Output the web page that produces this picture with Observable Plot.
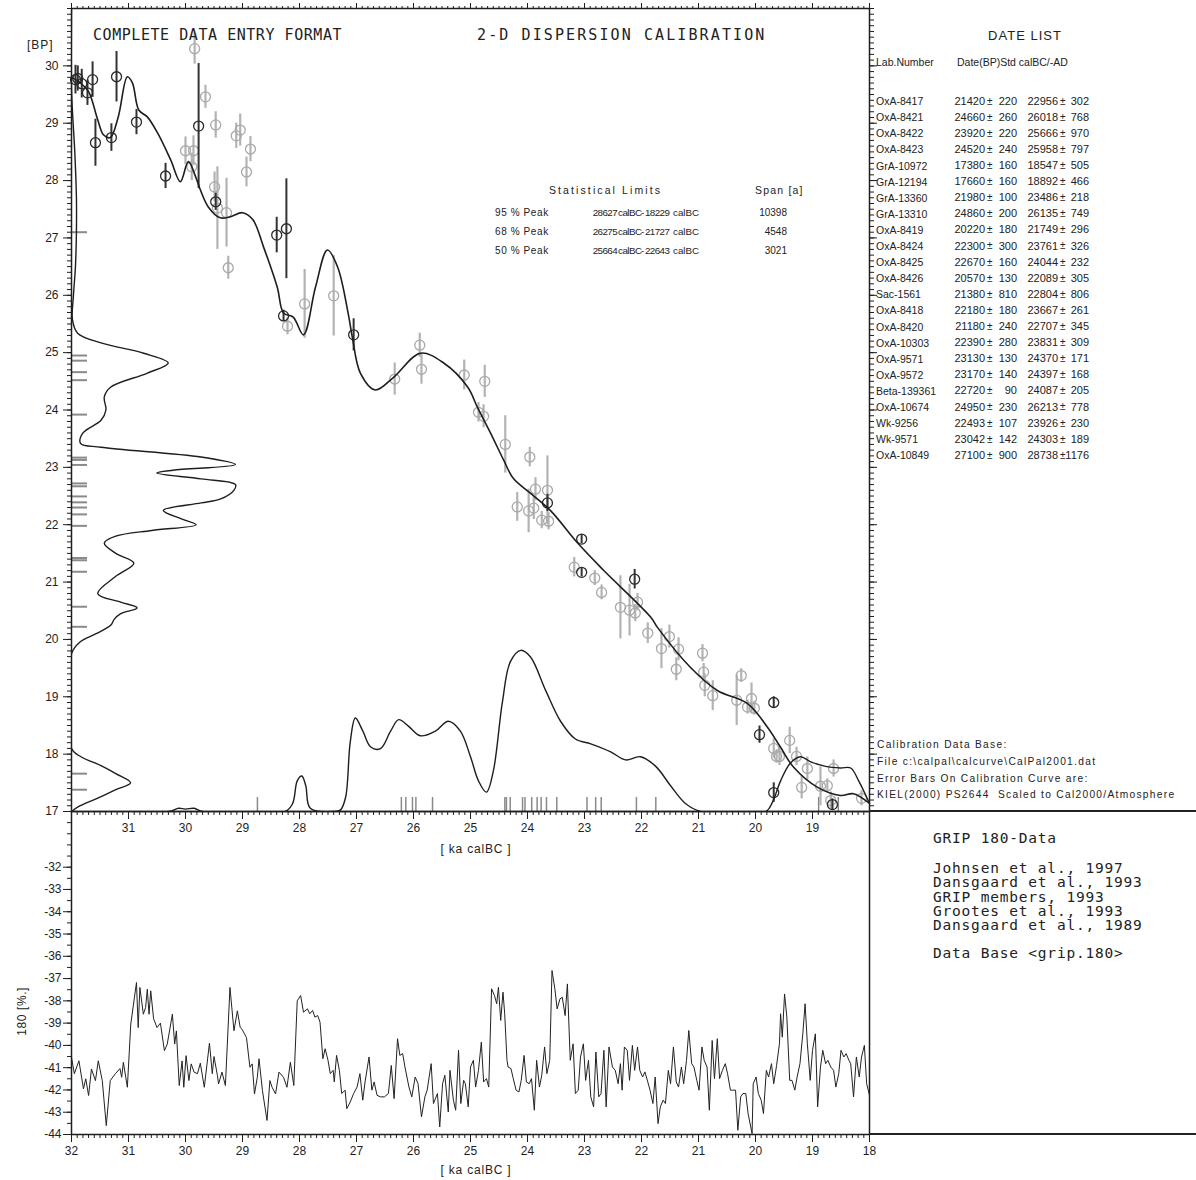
<!DOCTYPE html>
<html><head><meta charset="utf-8">
<script src="https://cdn.jsdelivr.net/npm/d3@7"></script>
<script src="https://cdn.jsdelivr.net/npm/@observablehq/plot@0.6"></script>
<style>
body{margin:0;background:#fff}
#wrap{position:relative;width:1196px;height:1180px;overflow:hidden;background:#fff}
#wrap svg{position:absolute;left:0;top:0}
.t{position:absolute;white-space:pre;color:#222}
.hl{position:absolute;background:#222}
</style></head><body><div id="wrap"></div>
<script>
// ---------- DATA ----------
const calCurve = [[31.98,29.79],[31.84,29.70],[31.70,29.55],[31.54,29.06],[31.44,28.80],[31.32,28.75],[31.18,29.11],[31.02,29.81],[30.93,29.70],[30.82,29.23],[30.67,29.11],[30.49,28.83],[30.26,28.36],[30.09,27.98],[29.95,28.33],[29.82,28.06],[29.74,27.84],[29.60,27.54],[29.39,27.35],[29.21,27.37],[29.00,27.44],[28.82,27.32],[28.63,26.84],[28.39,26.14],[28.28,25.69],[28.11,25.62],[27.93,25.31],[27.72,26.14],[27.51,26.79],[27.33,26.49],[27.14,25.65],[27.07,25.25],[26.93,24.64],[26.67,24.35],[26.35,24.57],[25.88,24.99],[25.47,24.82],[25.05,24.40],[24.88,24.05],[24.65,23.60],[24.42,23.13],[24.25,22.81],[23.95,22.55],[23.60,22.25],[23.12,21.68],[22.67,21.21],[21.84,20.39],[21.72,20.21],[21.14,19.51],[20.67,19.11],[20.14,18.88],[19.79,18.47],[19.56,18.12],[19.33,17.77],[18.91,17.42],[18.51,17.28],[18.28,17.31],[18.00,17.14]];

// calibration data points [calBC ka, BP ka, BP error ka]
const darkPts = [[31.93,29.76,0.25],[31.89,29.78,0.22],[31.82,29.69,0.25],[31.72,29.53,0.22],[31.63,29.76,0.31],[31.58,28.66,0.41],[31.30,28.75,0.24],[31.21,29.81,0.44],[30.86,29.02,0.22],[30.35,28.08,0.22],[29.77,28.95,1.09],[29.47,27.63,0.15],[28.40,27.05,0.31],[28.23,27.16,0.87],[28.28,25.64,0.10],[27.05,25.31,0.28],[23.65,22.38,0.15],[23.05,21.75,0.08],[23.05,21.17,0.08],[22.12,21.05,0.17],[19.68,18.90,0.10],[19.93,18.34,0.15],[19.68,17.33,0.17],[18.65,17.12,0.10]];
const lightPts = [[29.84,30.30,0.27],[29.65,29.46,0.20],[29.47,28.97,0.23],[29.11,28.78,0.22],[29.04,28.88,0.28],[28.86,28.55,0.22],[28.93,28.15,0.26],[30.00,28.52,0.24],[29.86,28.52,0.26],[29.89,28.24,0.24],[29.49,27.89,0.26],[29.44,27.52,0.72],[29.28,27.44,0.60],[29.25,26.48,0.20],[27.91,25.85,0.60],[27.40,25.99,0.70],[28.21,25.46,0.15],
[26.33,24.54,0.28],[25.89,25.13,0.21],[25.86,24.71,0.26],[25.11,24.61,0.26],[24.75,24.50,0.28],[24.86,23.96,0.17],[24.77,23.89,0.20],[24.39,23.40,0.50],[23.96,23.18,0.17],[24.18,22.31,0.25],[23.98,22.24,0.38],[23.89,22.29,0.20],[23.86,22.62,0.20],[23.65,22.60,0.60],[23.75,22.08,0.15],[23.63,22.06,0.15],[23.18,21.26,0.17],[22.82,21.07,0.13],[22.70,20.82,0.13],[22.37,20.56,0.55],[22.21,20.51,0.45],[22.11,20.46,0.15],[22.07,20.65,0.15],
[21.89,20.11,0.18],[21.65,19.84,0.35],[21.51,20.05,0.20],[21.35,19.83,0.20],[21.39,19.48,0.20],[20.93,19.76,0.15],[20.91,19.43,0.15],[20.89,19.20,0.20],[20.75,19.02,0.26],[20.33,18.94,0.44],[20.25,19.37,0.12],[20.14,18.82,0.12],[20.07,18.97,0.27],[20.02,18.80,0.12],[19.68,18.10,0.17],[19.63,17.96,0.12],[19.58,17.96,0.16],[19.40,18.24,0.23],[19.28,17.96,0.16],[19.19,17.42,0.20],[19.09,17.75,0.20],[18.86,17.44,0.34],[18.74,17.45,0.12],[18.68,17.19,0.15],[18.63,17.75,0.15],[18.14,17.23,0.13]];

// summed probability in BP (relative %, drawn from the left axis)
const bpDens = [[31.0,0],[29.6,0],[29.2,0.6],[28.5,2],[27.7,3],[27.1,3],[26.5,2.4],[26.0,1.2],[25.57,0.6],[25.34,3.7],[25.17,18],[24.99,44],[24.82,59],[24.64,46],[24.40,24],[24.23,20],[24.0,21],[23.82,18],[23.6,7],[23.42,5.5],[23.35,18],[23.18,79],[23.05,100],[22.95,62],[22.90,52],[22.80,79],[22.70,100],[22.60,99],[22.45,91],[22.38,79],[22.25,56],[22.10,67],[22.0,76],[21.9,49],[21.80,27],[21.68,20],[21.5,27],[21.33,38],[21.1,27],[20.8,16],[20.65,30],[20.55,40],[20.45,30],[20.35,26],[20.25,24],[20.1,15],[19.95,5],[19.75,0],[18.1,0],[17.95,6],[17.8,18],[17.66,27],[17.5,36],[17.38,27],[17.22,15],[17.08,4],[17.0,0]];
// summed probability in calBC (relative %, drawn from the bottom axis)
const calDens = [[32.00,0],[30.30,0],[30.12,2],[30.0,1.5],[29.85,2],[29.70,0],[28.25,0],[28.12,5],[28.04,19],[27.96,22],[27.89,16],[27.81,2],[27.40,0],[27.28,1],[27.19,9],[27.11,43],[27.02,58],[26.89,50],[26.75,40],[26.58,39],[26.40,50],[26.26,57],[26.09,53],[25.88,47],[25.61,50],[25.39,56],[25.18,50],[25.00,34],[24.86,19],[24.72,12],[24.60,25],[24.44,68],[24.30,93],[24.12,100],[23.95,96],[23.68,75],[23.42,56],[23.16,45],[22.89,42],[22.54,37],[22.28,32],[22.02,34],[21.75,28],[21.49,16],[21.23,5],[20.96,0],[19.82,0],[19.70,6],[19.56,19],[19.39,30],[19.21,34],[19.04,31],[18.77,28],[18.51,27],[18.33,27],[18.19,19],[18.00,5]];

// date list
const labNumbers = ["OxA-8417","OxA-8421","OxA-8422","OxA-8423","GrA-10972","GrA-12194","GrA-13360","GrA-13310","OxA-8419","OxA-8424","OxA-8425","OxA-8426","Sac-1561","OxA-8418","OxA-8420","OxA-10303","OxA-9571","OxA-9572","Beta-139361","OxA-10674","Wk-9256","Wk-9571","OxA-10849"];
const datesBP = [21420,24660,23920,24520,17380,17660,21980,24860,20220,22300,22670,20570,21380,22180,21180,22390,23130,23170,22720,24950,22493,23042,27100];
const stdBP = [220,260,220,240,160,160,100,200,180,300,160,130,810,180,240,280,130,140,90,230,107,142,900];
const datesCal = [22956,26018,25666,25958,18547,18892,23486,26135,21749,23761,24044,22089,22804,23667,22707,23831,24370,24397,24087,26213,23926,24303,28738];
const stdCal = [302,768,970,797,505,466,218,749,296,326,232,305,806,261,345,309,171,168,205,778,230,189,1176];

// statistical limits
const statLabels = ["95 % Peak","68 % Peak","50 % Peak"];
const statFrom = [28627,26275,25664];
const statTo = [18229,21727,22643];
const statSpan = [10398,4548,3021];

// GRIP d18O record [calBC ka, permil]
const grip = [[32.00,-40.54],[31.95,-41.27],[31.87,-40.69],[31.79,-41.95],[31.75,-41.5],[31.70,-42.25],[31.65,-41.06],[31.58,-41.58],[31.53,-40.69],[31.46,-41.58],[31.39,-43.6],[31.32,-41.58],[31.23,-41.27],[31.15,-41.04],[31.12,-41.43],[31.09,-40.76],[31.02,-41.88],[30.96,-39.04],[30.86,-37.18],[30.83,-39.2],[30.80,-37.4],[30.74,-38.6],[30.70,-38.3],[30.67,-37.48],[30.64,-38.6],[30.61,-37.55],[30.56,-38.8],[30.50,-39.2],[30.44,-39.0],[30.37,-40.24],[30.32,-39.94],[30.23,-38.6],[30.19,-39.94],[30.16,-39.35],[30.11,-41.8],[30.06,-40.7],[30.03,-41.88],[29.99,-40.46],[29.94,-41.58],[29.90,-40.83],[29.85,-41.2],[29.79,-41.27],[29.74,-40.8],[29.67,-41.88],[29.58,-39.9],[29.53,-41.27],[29.50,-40.5],[29.44,-41.35],[29.42,-41.73],[29.36,-41.2],[29.30,-41.8],[29.22,-37.4],[29.15,-39.34],[29.09,-38.45],[29.04,-39.2],[29.01,-39.27],[28.93,-39.65],[28.87,-40.98],[28.83,-40.83],[28.79,-42.18],[28.74,-41.43],[28.71,-40.6],[28.65,-42.03],[28.57,-43.37],[28.52,-41.58],[28.48,-41.88],[28.42,-42.18],[28.36,-41.2],[28.28,-41.43],[28.22,-41.88],[28.16,-40.76],[28.10,-41.8],[28.04,-38.0],
[27.98,-37.76],[27.93,-38.51],[27.86,-38.36],[27.82,-38.58],[27.77,-38.43],[27.73,-38.73],[27.68,-38.66],[27.64,-38.96],[27.59,-40.6],[27.55,-40.15],[27.50,-40.67],[27.46,-41.27],[27.41,-41.12],[27.39,-41.64],[27.35,-40.45],[27.30,-41.12],[27.26,-42.16],[27.20,-42.01],[27.17,-42.84],[27.11,-42.54],[27.05,-42.16],[26.99,-41.87],[26.94,-41.27],[26.89,-42.46],[26.85,-41.64],[26.78,-40.52],[26.73,-42.01],[26.69,-41.64],[26.64,-42.24],[26.58,-42.31],[26.51,-42.31],[26.44,-42.16],[26.39,-40.9],[26.34,-42.39],[26.28,-39.7],[26.24,-40.45],[26.19,-40.37],[26.15,-40.97],[26.08,-41.87],[26.03,-42.31],[25.97,-41.42],[25.92,-41.72],[25.86,-43.21],[25.80,-42.31],[25.76,-42.01],[25.69,-40.82],[25.65,-42.61],[25.58,-42.16],[25.54,-43.66],[25.49,-41.72],[25.45,-41.34],[25.39,-42.99],[25.36,-41.12],[25.30,-42.46],[25.26,-42.91],[25.21,-40.22],[25.17,-42.61],[25.12,-41.57],[25.09,-41.72],[25.04,-42.76],[25.00,-40.97],[24.95,-40.67],[24.91,-41.87],[24.86,-41.12],[24.81,-39.85],[24.77,-41.64],[24.72,-41.49],[24.68,-41.87],[24.63,-37.46],[24.58,-37.76],[24.54,-38.13],[24.51,-37.39],[24.47,-38.88],[24.43,-37.61],[24.40,-38.58],[24.36,-40.67],[24.34,-40.97],[24.29,-41.04],[24.25,-41.49],[24.20,-42.01],[24.15,-42.09],[24.11,-41.57],[24.06,-40.45],[24.02,-41.64],[23.97,-41.72],[23.93,-41.49],[23.88,-42.91],[23.84,-40.67],[23.79,-41.87],[23.75,-41.34],[23.70,-40.07],[23.66,-41.27],[23.61,-40.67],[23.57,-36.64],[23.52,-37.46],[23.48,-38.36],[23.43,-37.91],[23.39,-37.84],[23.34,-38.66],[23.30,-37.24],[23.25,-40.67],[23.20,-39.93],[23.16,-42.16],[23.11,-42.01],[23.07,-40.52],[23.02,-39.93],[22.98,-41.57],[22.93,-40.67],[22.89,-42.31],[22.84,-42.76],[22.80,-40.30],[22.75,-42.31],[22.71,-42.16],[22.66,-40.22],[22.62,-42.76],[22.57,-40.07],[22.51,-40.97],[22.46,-41.12],[22.41,-41.72],[22.37,-40.82],[22.34,-42.01],[22.30,-40.07],[22.25,-40.22],[22.21,-41.57],[22.16,-40.0],[22.12,-41.12],[22.07,-40.07],[22.03,-41.12],[21.98,-41.42],[21.94,-41.19],[21.89,-41.64],[21.85,-42.01],[21.80,-42.61],[21.76,-41.42],[21.71,-43.51],[21.67,-42.76],[21.62,-42.46],[21.58,-42.61],[21.53,-41.12],[21.49,-41.72],[21.44,-40.07],[21.39,-41.64],[21.35,-41.87],[21.30,-40.97],[21.26,-41.72],[21.21,-40.67],[21.17,-39.33],[21.12,-40.82],[21.08,-40.97],[21.03,-41.57],[20.99,-42.01],[20.94,-40.07],[20.90,-40.67],[20.85,-40.97],[20.81,-42.91],[20.76,-39.78],[20.72,-41.49],[20.67,-39.7],[20.63,-41.49],[20.58,-41.12],[20.53,-40.82],[20.49,-41.27],[20.44,-42.01],[20.40,-42.01],[20.35,-42.01],[20.31,-43.81],[20.26,-42.31],[20.22,-42.16],[20.17,-42.16],[20.13,-43.06],[20.06,-43.96],[20.04,-41.72],[19.99,-41.42],[19.95,-42.16],[19.90,-42.46],[19.86,-43.06],[19.81,-41.12],[19.77,-41.42],[19.72,-40.82],[19.68,-41.72],[19.63,-40.9],[19.58,-39.93],[19.56,-38.58],[19.53,-39.63],[19.49,-37.69],[19.45,-38.73],[19.40,-41.57],[19.36,-41.57],[19.31,-42.01],[19.27,-41.42],[19.22,-40.82],[19.17,-39.48],[19.13,-38.13],[19.09,-39.93],[19.04,-41.57],[19.00,-40.22],[18.95,-39.48],[18.91,-42.76],[18.86,-40.97],[18.82,-40.22],[18.77,-40.82],[18.73,-40.67],[18.68,-40.97],[18.63,-41.12],[18.59,-41.87],[18.54,-41.27],[18.50,-40.22],[18.45,-40.52],[18.41,-40.37],[18.36,-40.67],[18.33,-40.82],[18.28,-42.31],[18.23,-40.52],[18.18,-41.42],[18.14,-40.52],[18.09,-40.0],[18.05,-41.72],[18.00,-42.24]];

// tick values
const bpLabels = [17,18,19,20,21,22,23,24,25,26,27,28,29,30];
const calLabelsTop = [31,30,29,28,27,26,25,24,23,22,21,20,19];
const calLabelsLow = [32,31,30,29,28,27,26,25,24,23,22,21,20,19,18];
const gripLabels = [-44,-43,-42,-41,-40,-39,-38,-37,-36,-35,-34,-33,-32];

// ---------- DRAW ----------
const wrap = document.getElementById("wrap");
const bpMinor = d3.range(170, 311).map(d => d / 10);
const calMinor = d3.range(180, 321).map(d => d / 10);
const gripMinor = d3.range(-88, -58).map(d => d / 2);
const blank = () => "";
const LK = 164 / 57;   // ka (x) for 100 % of BP density
const BK = 161 / 57.3; // ka (y) for 100 % of cal density
const font = "Liberation Sans, Arial, sans-serif";
const ink = "#1e1e1e";

const topPlot = Plot.plot({
  width: 1196, height: 870,
  marginLeft: 71, marginRight: 327, marginTop: 8, marginBottom: 59,
  x: {domain: [32, 18]}, y: {domain: [17, 31]},
  style: {background: "transparent", fontFamily: font, fontSize: "12px", color: ink, overflow: "visible"},
  marks: [
    Plot.axisY({ticks: bpMinor, tickSize: 4, tickFormat: blank, label: null}),
    Plot.axisY({ticks: bpLabels, tickSize: 8, tickPadding: 5, label: null}),
    Plot.axisY({anchor: "right", ticks: bpMinor, tickSize: 4, tickFormat: blank, label: null}),
    Plot.axisY({anchor: "right", ticks: bpLabels, tickSize: 7, tickFormat: blank, label: null}),
    Plot.axisX({anchor: "top", ticks: calMinor, tickSize: 3, tickFormat: blank, label: null}),
    Plot.axisX({anchor: "top", ticks: calLabelsLow, tickSize: 6, tickFormat: blank, label: null}),
    Plot.axisX({anchor: "bottom", ticks: calMinor, tickSize: 4, tickFormat: blank, label: null}),
    Plot.axisX({anchor: "bottom", ticks: calLabelsTop, tickSize: 8, tickPadding: 4, label: null}),
    // date markers
    Plot.ruleY(datesBP, {y: d => d / 1000, x1: 32, x2: 32 - 16 / 57, stroke: "#8a8a8a", strokeWidth: 2}),
    Plot.ruleX(datesCal, {x: d => d / 1000, y1: 17, y2: 17 + 14 / 57.3, stroke: "#8a8a8a", strokeWidth: 1.5}),
    // calibration data
    Plot.ruleX(lightPts, {x: d => d[0], y1: d => d[1] - d[2], y2: d => d[1] + d[2], stroke: "#b3b3b3", strokeWidth: 2.2}),
    Plot.dot(lightPts, {x: d => d[0], y: d => d[1], r: 5, stroke: "#a9a9a9", strokeWidth: 1.3, fill: "none"}),
    Plot.ruleX(darkPts, {x: d => d[0], y1: d => d[1] - d[2], y2: d => d[1] + d[2], stroke: "#333", strokeWidth: 2}),
    Plot.dot(darkPts, {x: d => d[0], y: d => d[1], r: 5, stroke: "#2a2a2a", strokeWidth: 1.3, fill: "none"}),
    // densities
    Plot.line(bpDens, {x: d => 32 - d[1] / 100 * LK, y: d => d[0], curve: "catmull-rom", stroke: ink, strokeWidth: 1.4, clip: true}),
    Plot.line(calDens, {x: d => d[0], y: d => 17 + d[1] / 100 * BK, curve: "catmull-rom", stroke: ink, strokeWidth: 1.4, clip: true}),
    // calibration curve
    Plot.line(calCurve, {x: d => d[0], y: d => d[1], curve: "catmull-rom", stroke: ink, strokeWidth: 1.6}),
    Plot.frame({stroke: ink, strokeWidth: 1.5})
  ]
});
wrap.appendChild(topPlot);

const lowPlot = Plot.plot({
  width: 1196, height: 1180,
  marginLeft: 71, marginRight: 327, marginTop: 811, marginBottom: 46,
  x: {domain: [32, 18]}, y: {domain: [-44, -29.5]},
  style: {background: "transparent", fontFamily: font, fontSize: "12px", color: ink, overflow: "visible"},
  marks: [
    Plot.axisY({ticks: gripMinor, tickSize: 4, tickFormat: blank, label: null}),
    Plot.axisY({ticks: gripLabels, tickSize: 8, tickPadding: 2, tickFormat: d => "-" + Math.abs(d), label: null}),
    Plot.axisX({anchor: "bottom", ticks: calMinor, tickSize: 4, tickFormat: blank, label: null}),
    Plot.axisX({anchor: "bottom", ticks: calLabelsLow, tickSize: 8, tickPadding: 4, label: null}),
    Plot.line(grip, {x: d => d[0], y: d => d[1], stroke: "#222", strokeWidth: 1}),
    Plot.frame({stroke: ink, strokeWidth: 1.5})
  ]
});
wrap.appendChild(lowPlot);

// right panel separators
function hline(x1, x2, y) { const d = document.createElement("div"); d.className = "hl"; d.style.left = x1 + "px"; d.style.top = (y - 0.75) + "px"; d.style.width = (x2 - x1) + "px"; d.style.height = "1.5px"; wrap.appendChild(d); }
hline(869, 1196, 811);
hline(869, 1196, 1134);

// text helper (positions by baseline)
function txt(s, x, base, o = {}) {
  const size = o.size || 11, fam = o.family || font, mono = /DejaVu/.test(fam);
  const asc = mono ? 0.928 : 0.905, desc = mono ? 0.236 : 0.212;
  const lh = o.lh || size;
  const d = document.createElement("div");
  d.className = "t"; d.textContent = s;
  d.style.fontFamily = fam; d.style.fontSize = size + "px"; d.style.lineHeight = lh + "px";
  d.style.letterSpacing = (o.ls || 0) + "px";
  d.style.top = (base - (lh - (asc + desc) * size) / 2 - asc * size) + "px";
  if (o.align === "right") d.style.right = (1196 - x) + "px";
  else if (o.align === "center") { d.style.left = x + "px"; d.style.transform = "translateX(-50%)"; }
  else d.style.left = x + "px";
  if (o.color) d.style.color = o.color;
  wrap.appendChild(d);
  return d;
}
const mono = "DejaVu Sans Mono, monospace";
txt("COMPLETE DATA ENTRY FORMAT", 93, 41, {size: 15, family: mono, ls: 0.55});
txt("2-D DISPERSION CALIBRATION", 477, 41, {size: 15, family: mono, ls: 2.1});
txt("[BP]", 27, 49, {size: 12, ls: 1});
txt("[ ka calBC ]", 476, 853, {size: 12, align: "center", ls: 0.8});
txt("[ ka calBC ]", 476, 1174, {size: 12, align: "center", ls: 0.8});
{ const d = txt("180 [%.]", 24, 1013, {size: 12, align: "center", ls: 0.6});
  d.style.transform = "translate(-50%,0) rotate(-90deg)"; d.style.transformOrigin = "50% 70%"; }

// statistics
txt("Statistical Limits", 549, 194, {size: 10.5, ls: 2.1});
txt("Span [a]", 755, 194, {size: 10.5, ls: 1.2});
statLabels.forEach((s, i) => {
  const b = 216 + i * 19;
  txt(s, 495, b, {size: 10, ls: 0.6});
  txt(String(statFrom[i]), 617, b, {size: 9.8, ls: -0.6, align: "right"});
  txt("calBC", 618, b, {size: 9.8, ls: -0.5});
  txt("-", 641, b, {size: 9.8});
  txt(String(statTo[i]), 645, b, {size: 9.8, ls: -0.6});
  txt("calBC", 673, b, {size: 9.8, ls: 0});
  txt(String(statSpan[i]), 787, b, {size: 10, align: "right"});
});

// date list
txt("DATE LIST", 1025, 40, {size: 13, align: "center", ls: 1});
txt("Lab.Number", 876, 66, {size: 10.5});
txt("Date(BP)Std calBC/-AD", 957, 66, {size: 10.5});
labNumbers.forEach((s, i) => {
  const b = 105 + i * 16.1;
  txt(s, 876, b, {size: 10.5});
  txt(String(datesBP[i]), 985, b, {size: 11, align: "right"});
  txt("±", 987, b, {size: 10});
  txt(String(stdBP[i]), 1017, b, {size: 11, align: "right"});
  txt(String(datesCal[i]), 1058, b, {size: 11, align: "right"});
  txt("±", 1060, b, {size: 10});
  txt(String(stdCal[i]), 1089, b, {size: 11, align: "right"});
});

// calibration data base note
["Calibration Data Base:", "File c:\\calpal\\calcurve\\CalPal2001.dat", "Error Bars On Calibration Curve are:", "KIEL(2000) PS2644  Scaled to Cal2000/Atmosphere"]
  .forEach((s, i) => txt(s, 877, 749 + i * 16.6, {size: 10.2, ls: 1.3}));

// GRIP notes
txt("GRIP 180-Data", 933, 843, {size: 14.5, family: mono, ls: 0.8, lh: 14});
["Johnsen et al., 1997", "Dansgaard et al., 1993", "GRIP members, 1993", "Grootes et al., 1993", "Dansgaard et al., 1989"]
  .forEach((s, i) => txt(s, 933, 873 + i * 14.3, {size: 14.5, family: mono, ls: 0.8, lh: 14}));
txt("Data Base <grip.180>", 933, 958, {size: 14.5, family: mono, ls: 0.8, lh: 14});
</script></body></html>
